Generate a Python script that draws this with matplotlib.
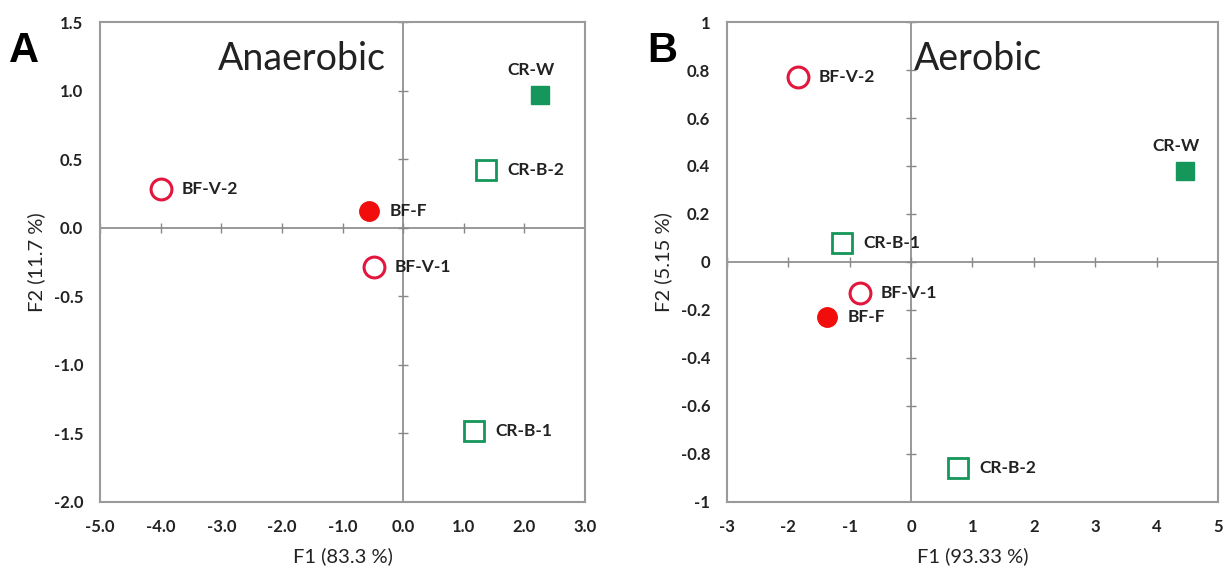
import matplotlib.pyplot as plt

plt.rcParams['font.family'] = ['Lato', 'DejaVu Sans']

# Panel A - anaerobic
a_names = ['CR-W', 'CR-B-2', 'BF-V-2', 'BF-F', 'BF-V-1', 'CR-B-1']
a_f1 = [2.25, 1.37, -3.99, -0.56, -0.48, 1.17]
a_f2 = [0.97, 0.42, 0.28, 0.12, -0.29, -1.48]
a_xticks = [-5.0, -4.0, -3.0, -2.0, -1.0, 0.0, 1.0, 2.0, 3.0]
a_yticks = [-2.0, -1.5, -1.0, -0.5, 0.0, 0.5, 1.0, 1.5]

# Panel B - aerobic
b_names = ['BF-V-2', 'CR-W', 'CR-B-1', 'BF-V-1', 'BF-F', 'CR-B-2']
b_f1 = [-1.84, 4.46, -1.12, -0.83, -1.37, 0.77]
b_f2 = [0.77, 0.38, 0.08, -0.13, -0.23, -0.86]
b_xticks = [-3, -2, -1, 0, 1, 2, 3, 4, 5]
b_yticks = [-1, -0.8, -0.6, -0.4, -0.2, 0, 0.2, 0.4, 0.6, 0.8, 1]

red = '#E3173E'
red_fill = '#F20D0D'
green = '#15965A'
txt = '#222222'

def style(name):
    if name == 'CR-W':
        return dict(marker='s', mfc=green, mec=green, ms=13, mew=1)
    if name.startswith('CR-B'):
        return dict(marker='s', mfc='white', mec=green, ms=15, mew=2)
    if name == 'BF-F':
        return dict(marker='o', mfc=red_fill, mec=red_fill, ms=14, mew=1)
    return dict(marker='o', mfc='white', mec=red, ms=15, mew=2.2)

def panel(ax, names, xs, ys, xticks, yticks, xfmt, yfmt, xlab, ylab):
    ax.set_xlim(xticks[0], xticks[-1])
    ax.set_ylim(yticks[0], yticks[-1])
    ax.axhline(0, color='#888888', lw=1.2, zorder=1)
    ax.axvline(0, color='#888888', lw=1.2, zorder=1)
    # small ticks on the zero lines
    ax.plot(xticks, [0] * len(xticks), ls='none', marker='|', ms=7, color='#888888', zorder=1)
    ax.plot([0] * len(yticks), yticks, ls='none', marker='_', ms=7, color='#888888', zorder=1)
    for n, x, y in zip(names, xs, ys):
        ax.plot(x, y, ls='none', zorder=3, **style(n))
    ax.set_xticks(xticks)
    ax.set_yticks(yticks)
    ax.set_xticklabels([xfmt(v) for v in xticks], fontsize=12, fontweight='bold', color=txt)
    ax.set_yticklabels([yfmt(v) for v in yticks], fontsize=12, fontweight='bold', color=txt)
    ax.tick_params(length=0, pad=12)
    for s in ax.spines.values():
        s.set_color('#9a9a9a')
        s.set_linewidth(1.5)
    ax.set_xlabel(xlab, fontsize=14.5, labelpad=9, color=txt)
    ax.set_ylabel(ylab, fontsize=14.5, labelpad=6, color=txt)

def fmt1(v):
    return '%.1f' % v

def fmtg(v):
    return '%g' % v

fig = plt.figure(figsize=(12.29, 5.79), dpi=100)
ax1 = fig.add_axes([0.0814, 0.133, 0.3946, 0.829])
ax2 = fig.add_axes([0.5915, 0.133, 0.3995, 0.829])

panel(ax1, a_names, a_f1, a_f2, a_xticks, a_yticks, fmt1, fmt1, 'F1 (83.3 %)', 'F2 (11.7 %)')
panel(ax2, b_names, b_f1, b_f2, b_xticks, b_yticks, fmtg, fmtg, 'F1 (93.33 %)', 'F2 (5.15 %)')

def labels(ax, names, xs, ys):
    for n, x, y in zip(names, xs, ys):
        if n == 'CR-W':
            ax.annotate(n, (x, y), xytext=(-6, 12), textcoords='offset points',
                        ha='center', va='bottom', fontsize=12.5, fontweight='bold', color=txt)
        else:
            ax.annotate(n, (x, y), xytext=(15, 0), textcoords='offset points',
                        ha='left', va='center', fontsize=12.5, fontweight='bold', color=txt)

labels(ax1, a_names, a_f1, a_f2)
labels(ax2, b_names, b_f1, b_f2)

ax1.text(0.416, 0.96, 'Anaerobic', transform=ax1.transAxes, fontsize=27, ha='center', va='top', color=txt)
ax2.text(0.38, 0.96, 'Aerobic', transform=ax2.transAxes, fontsize=27, ha='left', va='top', color=txt)
fig.text(0.007, 0.893, 'A', fontsize=30, fontweight='bold', family='Liberation Sans')
fig.text(0.527, 0.893, 'B', fontsize=30, fontweight='bold', family='Liberation Sans')

plt.savefig('out.png', dpi=100)
